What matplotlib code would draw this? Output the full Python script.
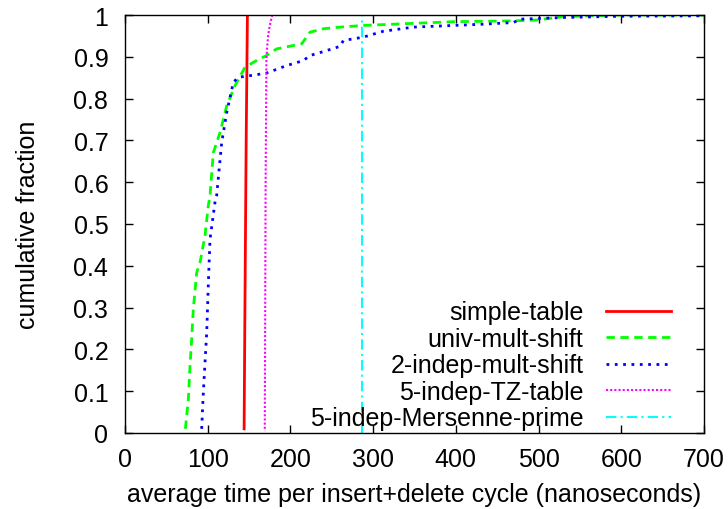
import matplotlib
matplotlib.use("Agg")
import matplotlib.pyplot as plt

plt.rcParams['font.family'] = ['Liberation Sans', 'DejaVu Sans']

# simple-table
st_x = [144, 145, 146.5, 148]
st_y = [0.01, 0.3, 0.7, 1.0]

# univ-mult-shift
um_x = [73, 76.6, 78.6, 80.6, 82.6, 86.7, 90.7, 96.7, 100.7, 102.8, 106.8, 114.9,
        123, 133, 145, 159, 171, 183.4, 213.6, 223.7, 239.8, 260, 288, 397, 469.6,
        497.8, 530, 600, 700]
um_y = [0.01, 0.081, 0.161, 0.225, 0.297, 0.384, 0.408, 0.472, 0.544, 0.568, 0.671, 0.719,
        0.783, 0.831, 0.875, 0.891, 0.903, 0.919, 0.931, 0.959, 0.967, 0.971, 0.975, 0.984, 0.986,
        0.988, 0.996, 1.0, 1.0]

# 2-indep-mult-shift
im_x = [92.7, 94.7, 98.8, 100.8, 102.8, 108.8, 110.8, 116.9, 123, 131, 137, 155, 171,
        195.5, 215.6, 223.7, 243.9, 260, 264, 288, 312, 348.6, 433, 469.6, 477.6, 530,
        598.6, 695]
im_y = [0.01, 0.097, 0.241, 0.36, 0.464, 0.552, 0.568, 0.695, 0.767, 0.839, 0.851, 0.856, 0.861,
        0.879, 0.891, 0.903, 0.915, 0.925, 0.939, 0.947, 0.961, 0.971, 0.978, 0.982, 0.990, 0.994,
        0.997, 0.998]

# 5-indep-TZ-table
tz_x = [169, 169.5, 170, 171, 173, 175, 178]
tz_y = [0.01, 0.3, 0.6, 0.9, 0.95, 0.975, 1.0]

# 5-indep-Mersenne-prime
mp_x = [287, 287, 287]
mp_y = [0.0, 0.5, 1.0]

labels = ['simple-table', 'univ-mult-shift', '2-indep-mult-shift',
          '5-indep-TZ-table', '5-indep-Mersenne-prime']
xticks = [0, 100, 200, 300, 400, 500, 600, 700]
yticks = [0, 0.1, 0.2, 0.3, 0.4, 0.5, 0.6, 0.7, 0.8, 0.9, 1]
ytick_labels = ['0', '0.1', '0.2', '0.3', '0.4', '0.5', '0.6', '0.7', '0.8', '0.9', '1']

FS = 18

fig = plt.figure(figsize=(7.28, 5.10), dpi=100)
ax = fig.add_axes([125/728, 1-434/510, (704-125)/728, (434-16)/510])

ax.plot(st_x, st_y, color='#ff0000', lw=2, ls='-', label=labels[0])
ax.plot(um_x, um_y, color='#00ff00', lw=2, ls=(0, (3, 2)), label=labels[1])
ax.plot(im_x, im_y, color='#0000ff', lw=2, ls=(0, (1, 2)), label=labels[2])
ax.plot(tz_x, tz_y, color='#ff00ff', lw=1.5, ls=(0, (1, 1)), label=labels[3])
ax.plot(mp_x, mp_y, color='#00ffff', lw=1.5, ls=(0, (5, 2, 1, 2)), label=labels[4])

ax.set_xlim(0, 700)
ax.set_ylim(0, 1)
ax.set_xticks(xticks)
ax.set_yticks(yticks)
ax.set_yticklabels(ytick_labels)
ax.tick_params(direction='in', top=True, right=True, length=6, width=1,
               labelsize=FS)
ax.tick_params(axis='x', pad=10)
ax.tick_params(axis='y', pad=12)
for s in ax.spines.values():
    s.set_linewidth(1)
ax.set_xlabel('average time per insert+delete cycle (nanoseconds)', fontsize=FS, labelpad=8)
ax.set_ylabel('cumulative fraction', fontsize=FS, labelpad=24)

ax.legend(loc='lower right', bbox_to_anchor=(671/728, 1-434/510 + 0.005),
          bbox_transform=fig.transFigure, frameon=False, markerfirst=False, fontsize=FS,
          handlelength=2.6, labelspacing=0.1, borderaxespad=0.0, borderpad=0.0,
          handletextpad=0.9)

fig.savefig('out.png', dpi=100)
